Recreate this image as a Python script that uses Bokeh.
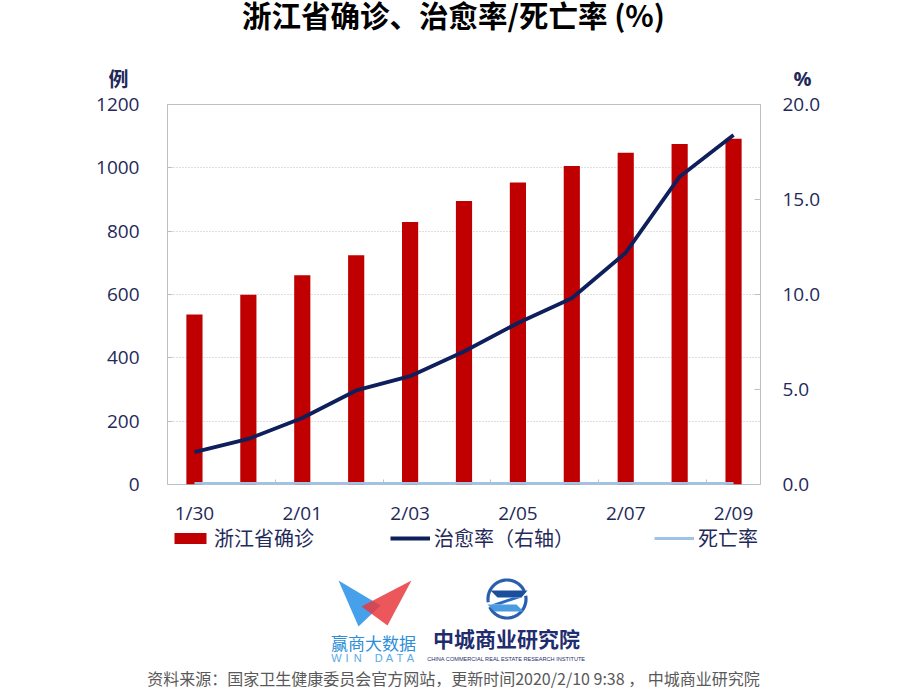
from bokeh.plotting import figure
from bokeh.models import (Range1d, LinearAxis, FixedTicker, Legend,
                          LegendItem, NumeralTickFormatter)
from bokeh.embed import file_html
from bokeh.resources import INLINE
from bokeh.core.properties import value
import numpy as np

# ---------------- data ----------------
dates = ["1/30", "1/31", "2/01", "2/02", "2/03", "2/04", "2/05", "2/06", "2/07", "2/08", "2/09"]
confirmed = [537, 599, 661, 724, 829, 895, 954, 1006, 1048, 1075, 1092]
cure_rate = [1.7, 2.4, 3.5, 4.95, 5.7, 7.0, 8.5, 9.8, 12.2, 16.2, 18.4]
death_rate = [0, 0, 0, 0, 0, 0, 0, 0, 0, 0, 0]
left_ticks = [0, 200, 400, 600, 800, 1000, 1200]
right_ticks = [0, 5, 10, 15, 20]
shown_dates = ["1/30", "2/01", "2/03", "2/05", "2/07", "2/09"]

title_text = "浙江省确诊、治愈率/死亡率 (%)"
left_unit = "例"
right_unit = "%"
legend_labels = ["浙江省确诊", "治愈率（右轴）", "死亡率"]
footer_text = "资料来源：国家卫生健康委员会官方网站，更新时间2020/2/10 9:38 ， 中城商业研究院"

NAVY = "#1F2A5A"
RED = "#C00000"
LINE_NAVY = "#0F1F5C"
LIGHT_BLUE = "#9DC3E6"
GRID = "#BFBFBF"
CJK = "Noto Sans CJK SC"
NUM = "Open Sans"

W = 908
H_TOP = 92       # header strip (title + units)
Y_SPLIT = 528    # bottom of the chart canvas
H_MAIN = Y_SPLIT - H_TOP
H_BOT = 690 - Y_SPLIT

idx = list(range(len(dates)))

# ---------------- header ----------------
h = figure(width=W, height=H_TOP, x_range=Range1d(0, W), y_range=Range1d(H_TOP, 0),
           output_backend="svg", toolbar_location=None, min_border=0,
           x_axis_location=None, y_axis_location=None)
h.grid.visible = False
h.outline_line_color = None
h.text(x=[453], y=[13], text=[title_text], text_font=value(CJK), text_font_style="bold",
       text_font_size="29.5px", text_color="black", text_align="center", text_baseline="middle")
h.text(x=[118], y=[78], text=[left_unit], text_font=value(CJK), text_font_style="bold",
       text_font_size="20px", text_color=NAVY, text_align="center", text_baseline="middle")
h.text(x=[802], y=[78], text=[right_unit], text_font=value(NUM), text_font_style="bold",
       text_font_size="20px", text_color=NAVY, text_align="center", text_baseline="middle")

# ---------------- main chart ----------------
p = figure(width=W, height=H_MAIN,
           x_range=Range1d(-0.5, len(dates) - 0.5),
           y_range=Range1d(0, 1200),
           output_backend="svg", toolbar_location=None,
           min_border_left=167, min_border_right=148,
           min_border_top=104 - H_TOP, min_border_bottom=Y_SPLIT - 484)
p.background_fill_color = "white"
p.border_fill_color = "white"
p.outline_line_color = GRID
p.outline_line_width = 1
p.extra_y_ranges = {"right": Range1d(0, 20)}

p.xgrid.grid_line_color = None
p.ygrid.grid_line_color = GRID
p.ygrid.grid_line_dash = "1 2"
p.ygrid.grid_line_width = 1

la = p.yaxis[0]
la.ticker = FixedTicker(ticks=left_ticks)
la.axis_line_color = None
la.major_tick_in = 5
la.major_tick_out = 0
la.major_tick_line_color = GRID
la.minor_tick_line_color = None
la.major_label_standoff = 28
la.major_label_text_font = NUM
la.major_label_text_font_size = "19px"
la.major_label_text_color = NAVY

ra = LinearAxis(y_range_name="right", ticker=FixedTicker(ticks=right_ticks),
                formatter=NumeralTickFormatter(format="0.0"))
ra.axis_line_color = None
ra.major_tick_in = 6
ra.major_tick_out = 0
ra.major_tick_line_color = GRID
ra.minor_tick_line_color = None
ra.major_label_standoff = 22
ra.major_label_text_font = NUM
ra.major_label_text_font_size = "19px"
ra.major_label_text_color = NAVY
p.add_layout(ra, "right")

xa = p.xaxis[0]
shown_idx = [dates.index(d) for d in shown_dates]
boundaries = [i + 0.5 for i in range(1, len(dates), 2)]
xa.ticker = FixedTicker(ticks=shown_idx, minor_ticks=boundaries)
xa.major_label_overrides = {i: dates[i] for i in shown_idx}
xa.axis_line_color = None
xa.major_tick_line_color = None
xa.minor_tick_line_color = GRID
xa.minor_tick_in = 5
xa.minor_tick_out = 0
xa.major_label_standoff = 9
xa.major_label_text_font = NUM
xa.major_label_text_font_size = "19px"
xa.major_label_text_color = NAVY

bars = p.vbar(x=idx, top=confirmed, width=0.30, fill_color=RED, line_color=None)
cure = p.line(x=idx, y=cure_rate, y_range_name="right", line_color=LINE_NAVY,
              line_width=3.8, line_join="round")
death = p.line(x=idx, y=death_rate, y_range_name="right", line_color=LIGHT_BLUE,
               line_width=5)

# ---------------- legend + logos + footer ----------------
q = figure(width=W, height=H_BOT, x_range=Range1d(0, W), y_range=Range1d(690, Y_SPLIT),
           output_backend="svg", toolbar_location=None, min_border=0,
           x_axis_location=None, y_axis_location=None)
q.grid.visible = False
q.outline_line_color = None
q.background_fill_color = "white"
q.border_fill_color = "white"

# legend keys styled like the chart's series (placeholder renderers, nothing drawn)
nan = float("nan")
kb = q.vbar(x=[nan], top=[nan], width=0.3, fill_color=RED, line_color=None)
kc = q.line(x=[nan], y=[nan], line_color=LINE_NAVY, line_width=3.8)
kd = q.line(x=[nan], y=[nan], line_color=LIGHT_BLUE, line_width=3)
for r, lab, lx in zip([kb, kc, kd], legend_labels, [170, 390, 654]):
    lg = Legend(items=[LegendItem(label=lab, renderers=[r])], location=(lx, 690 - 552),
                orientation="horizontal", padding=0, margin=0,
                border_line_color=None, background_fill_alpha=0,
                glyph_width=40, glyph_height=14, label_standoff=4,
                label_text_font=CJK, label_text_font_size="20px",
                label_text_color=NAVY, label_height=20)
    q.add_layout(lg, "center")

# WIN DATA logo
q.patch(x=[338, 380, 358], y=[580, 605, 626], fill_color="#3D9BE9", fill_alpha=0.95, line_color=None)
q.patch(x=[411, 361, 387], y=[580, 606, 625], fill_color="#E83A3E", fill_alpha=0.85, line_color=None)
q.text(x=[373], y=[642], text=["赢商大数据"], text_font=value(CJK), text_font_size="17px",
       text_color="#2C8ED8", text_align="center", text_baseline="middle")
letters = list("WIN DATA")
q.text(x=list(np.linspace(336, 410, len(letters))), y=[657] * len(letters), text=letters,
       text_font=value("Liberation Sans"), text_font_size="11px", text_color="#5AA9E6",
       text_align="center", text_baseline="middle")

# CCRE logo
th1 = np.linspace(np.radians(25), np.radians(190), 40)
th2 = np.linspace(np.radians(205), np.radians(370), 40)
cx, cy, rr = 506.5, 598.5, 19
for th in (th1, th2):
    q.line(x=list(cx + rr * np.cos(th)), y=list(cy - rr * np.sin(th)),
           line_color="#2B5FAE", line_width=3.2)
q.patch(x=[490, 527, 521, 497], y=[590, 590, 597, 597], fill_color="#1C4E9E", line_color=None)
q.patch(x=[512, 521, 500, 491], y=[597, 597, 604, 604], fill_color="#2A6BC0", line_color=None)
q.patch(x=[487, 516, 523, 494], y=[604, 604, 611, 611], fill_color="#4A9BE0", line_color=None)
q.text(x=[506], y=[637], text=["中城商业研究院"], text_font=value(CJK), text_font_style="bold",
       text_font_size="21px", text_color="#1F2D6E", text_align="center", text_baseline="middle")
q.text(x=[506], y=[658], text=["CHINA COMMERCIAL REAL ESTATE RESEARCH INSTITUTE"],
       text_font=value("Liberation Sans"), text_font_size="5.6px", text_color="#1F2D6E",
       text_align="center", text_baseline="middle")

q.text(x=[453], y=[677], text=[footer_text], text_font=value(CJK), text_font_size="16px",
       text_color="#595959", text_align="center", text_baseline="middle")

open("out.html", "w").write(file_html([h, p, q], INLINE))
